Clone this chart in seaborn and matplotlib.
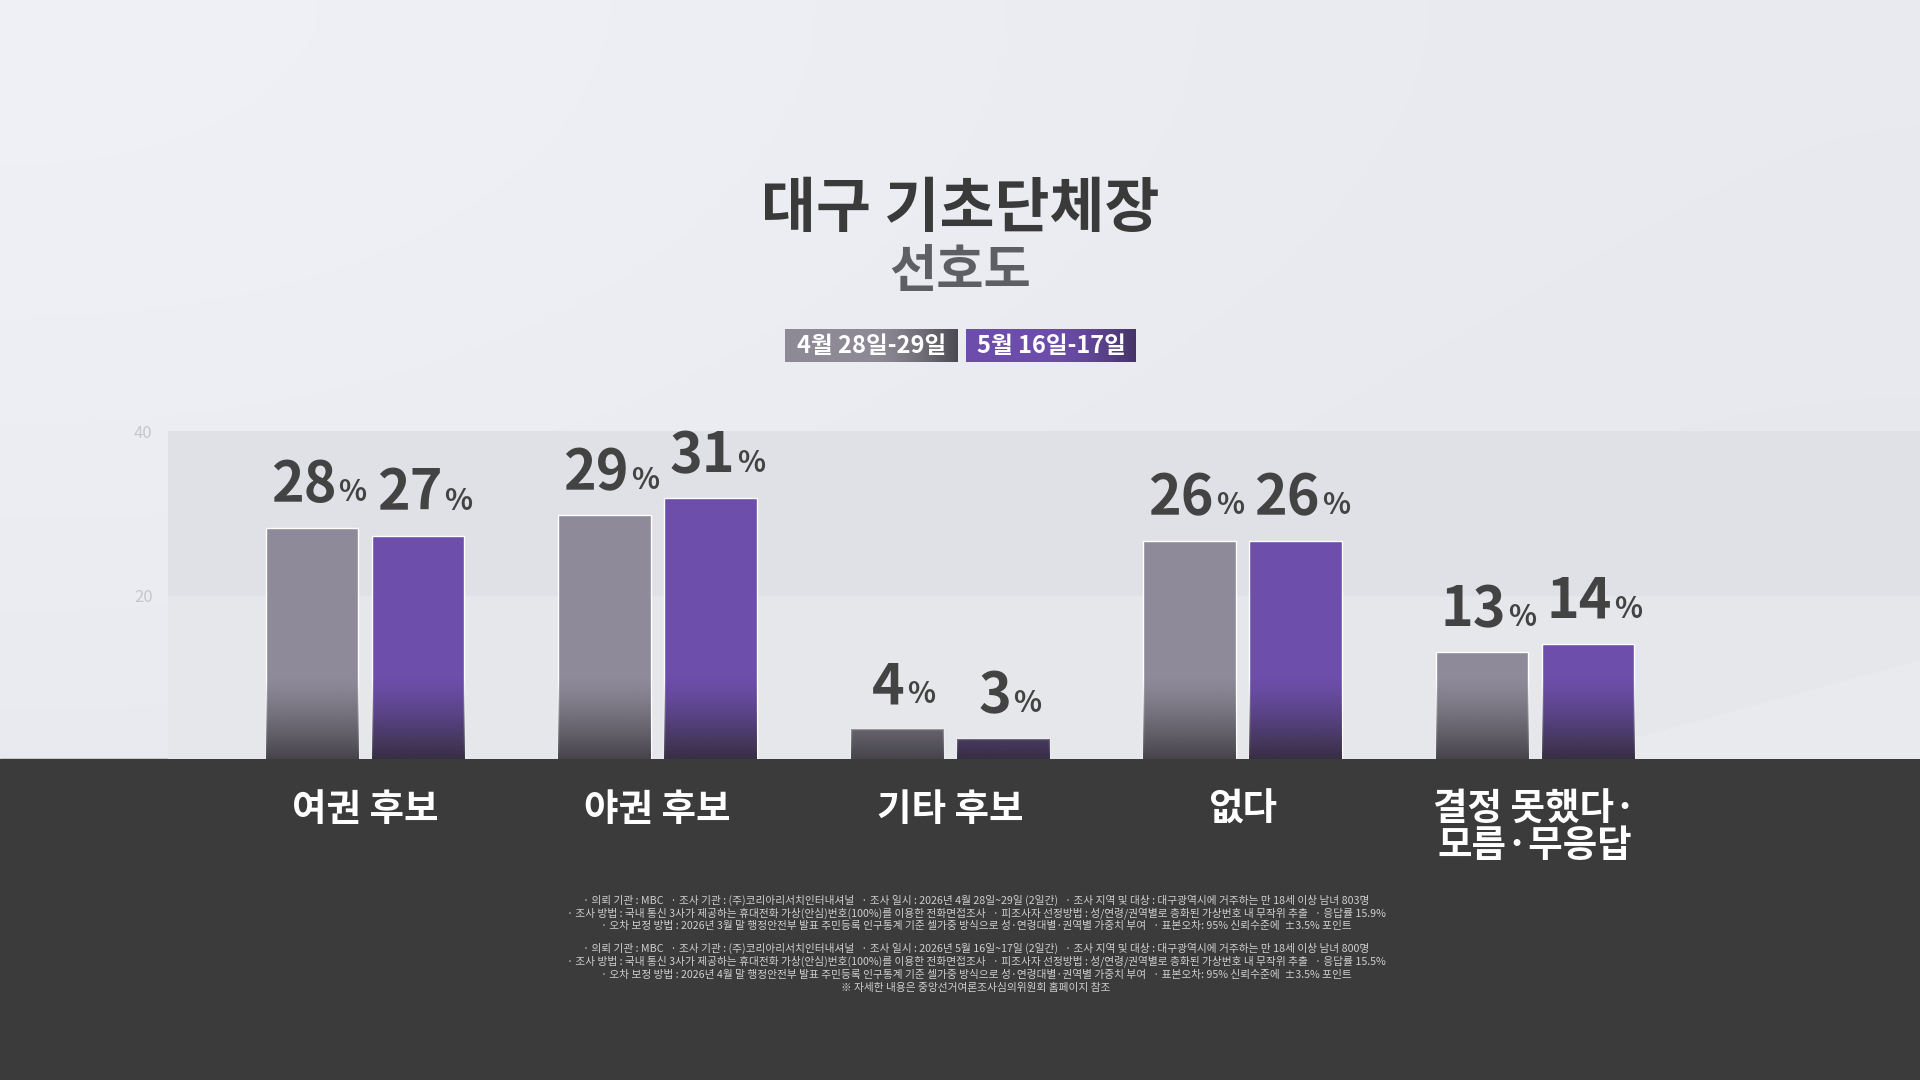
import numpy as np
import pandas as pd
import matplotlib
matplotlib.use("Agg")
import matplotlib.pyplot as plt
from matplotlib.patches import Rectangle, Polygon
from matplotlib.colors import to_rgb
import seaborn as sns

# ---------------- data ----------------
categories = ["여권 후보", "야권 후보", "기타 후보", "없다", "결정 못했다·\n모름·무응답"]
periods = ["4월 28일-29일", "5월 16일-17일"]
values_apr = [28.2, 29.7, 3.6, 26.6, 13.0]
values_may = [27.2, 31.8, 2.5, 26.6, 14.0]
labels_apr = [28, 29, 4, 26, 13]
labels_may = [27, 31, 3, 26, 14]
yticks = [20, 40]

title = "대구 기초단체장"
subtitle = "선호도"
footnotes_1 = [
    "· 의뢰 기관 : MBC   · 조사 기관 : (주)코리아리서치인터내셔널   · 조사 일시 : 2026년 4월 28일~29일 (2일간)   · 조사 지역 및 대상 : 대구광역시에 거주하는 만 18세 이상 남녀 803명",
    "· 조사 방법 : 국내 통신 3사가 제공하는 휴대전화 가상(안심)번호(100%)를 이용한 전화면접조사   · 피조사자 선정방법 : 성/연령/권역별로 층화된 가상번호 내 무작위 추출   · 응답률 15.9%",
    "· 오차 보정 방법 : 2026년 3월 말 행정안전부 발표 주민등록 인구통계 기준 셀가중 방식으로 성·연령대별·권역별 가중치 부여   · 표본오차: 95% 신뢰수준에  ±3.5% 포인트",
]
footnotes_2 = [
    "· 의뢰 기관 : MBC   · 조사 기관 : (주)코리아리서치인터내셔널   · 조사 일시 : 2026년 5월 16일~17일 (2일간)   · 조사 지역 및 대상 : 대구광역시에 거주하는 만 18세 이상 남녀 800명",
    "· 조사 방법 : 국내 통신 3사가 제공하는 휴대전화 가상(안심)번호(100%)를 이용한 전화면접조사   · 피조사자 선정방법 : 성/연령/권역별로 층화된 가상번호 내 무작위 추출   · 응답률 15.5%",
    "· 오차 보정 방법 : 2026년 4월 말 행정안전부 발표 주민등록 인구통계 기준 셀가중 방식으로 성·연령대별·권역별 가중치 부여   · 표본오차: 95% 신뢰수준에  ±3.5% 포인트",
    "※ 자세한 내용은 중앙선거여론조사심의위원회 홈페이지 참조",
]

df = pd.DataFrame({
    "category": categories * 2,
    "period": [periods[0]] * len(categories) + [periods[1]] * len(categories),
    "value": values_apr + values_may,
})

# ---------------- style ----------------
sns.set_theme(style="white")
plt.rcParams["font.family"] = ["Noto Sans CJK KR", "DejaVu Sans"]

GRAY = "#8e8a99"
PURPLE = "#6d4eab"
DARK_BAND = "#3b3b3b"
W, H = 1920, 1080

fig = plt.figure(figsize=(19.2, 10.8), dpi=100)

# background axes
bg = fig.add_axes([0, 0, 1, 1], zorder=-5)
corners = np.array([[to_rgb("#eff1f6"), to_rgb("#e8eaef")],
                    [to_rgb("#e8e9ee"), to_rgb("#e4e6eb")]])
bg.imshow(corners, extent=[0, 1, 0, 1], interpolation="bicubic", aspect="auto")
bg.add_patch(Rectangle((0, 0), 1, (H - 759) / H, color=DARK_BAND, zorder=3))
bg.set_xlim(0, 1)
bg.set_ylim(0, 1)
bg.axis("off")

# main axes
ax_left = 168 / W
ax = fig.add_axes([ax_left, (H - 759) / H, 1 - ax_left, (759 - 431) / H])
ax.set_facecolor("#e6e7eb")

sns.barplot(data=df, x="category", y="value", hue="period", order=categories,
            hue_order=periods, palette=[GRAY, PURPLE], width=0.725, gap=0.13,
            saturation=1, errorbar=None, legend=False, ax=ax, zorder=3)

ax.axhspan(20, 40, color="#e0e1e6", zorder=0.5)
ax.add_patch(Polygon([(1560 / W, (H - 759) / H), (1.0, (H - 661) / H), (1.0, (H - 759) / H)],
                     closed=True, transform=fig.transFigure, color="#e9eaee", zorder=0.6))

# gradient darkening at bottom of bars
G = 10.0
bottoms = ["#46444a", "#372f42"]
n = 256
for cont, bcol in zip(ax.containers, bottoms):
    rgb = to_rgb(bcol)
    grad = np.zeros((n, 1, 4))
    grad[..., :3] = rgb
    t = np.linspace(1, 0, n)
    grad[:, 0, 3] = (1 - t) ** 1.3
    for bar in cont:
        x0, w = bar.get_x(), bar.get_width()
        im = ax.imshow(grad, extent=[x0, x0 + w, 0, G], aspect="auto",
                       interpolation="bilinear", zorder=3.5, origin="upper")
        im.set_clip_path(bar)

# value labels
for cont, labs in zip(ax.containers, [labels_apr, labels_may]):
    for bar, lab in zip(cont, labs):
        cx = bar.get_x() + bar.get_width() / 2
        h = bar.get_height()
        num = ax.annotate(str(lab), xy=(cx, h), xytext=(-6, 19), textcoords="offset points",
                          ha="center", va="baseline", fontsize=40, fontweight="black",
                          color="#434343", annotation_clip=False, zorder=5)
        ax.annotate("%", xy=(1, h), xycoords=(num, "data"), xytext=(1.5, 19),
                    textcoords="offset points", ha="left", va="baseline",
                    fontsize=21, fontweight="bold", color="#434343",
                    annotation_clip=False, zorder=5)

ax.set_xlim((168 - 365) / 292.5, (1920 - 365) / 292.5)
ax.set_ylim(0, 40)
ax.set_yticks(yticks)
ax.set_yticklabels([str(v) for v in yticks])
ax.tick_params(axis="y", length=0, pad=11, labelsize=12, labelcolor="#c6c7cd")
ax.tick_params(axis="x", length=0, pad=22, labelsize=27, labelcolor="white")
for tl in ax.get_xticklabels():
    tl.set_fontweight("bold")
    tl.set_linespacing(0.92)
ax.set_xlabel("")
ax.set_ylabel("")
for s in ax.spines.values():
    s.set_visible(False)
ax.grid(False)

# title
fig.text(960 / W, 1 - 210 / H, title, ha="center", va="center", fontsize=43,
         fontweight="black", color="#3a3a3a")
fig.text(960 / W, 1 - 272 / H, subtitle, ha="center", va="center", fontsize=37,
         fontweight="black", color="#5e5e65")

# legend boxes
leg_specs = [(785, 958, ["#8d8a96", "#4c4a52"]), (966, 1136, ["#6c4dab", "#463468"])]
for (x0, x1, cols), lab in zip(leg_specs, periods):
    c0, c1 = np.array(to_rgb(cols[0])), np.array(to_rgb(cols[1]))
    tt = np.linspace(0, 1, 64)
    tt = np.clip((tt - 0.5) / 0.5, 0, 1) ** 1.5
    row = (c0[None, :] * (1 - tt[:, None]) + c1[None, :] * tt[:, None])[None, :, :]
    lax = fig.add_axes([x0 / W, 1 - 362 / H, (x1 - x0) / W, 33 / H])
    lax.imshow(row, extent=[0, 1, 0, 1], aspect="auto", interpolation="bilinear")
    lax.axis("off")
    lax.text(0.5, 0.47, lab, ha="center", va="center", fontsize=17, fontweight="bold",
             color="white", transform=lax.transAxes)

# footnotes
fy = [900, 913, 926]
for y, line in zip(fy, footnotes_1):
    fig.text(976 / W, 1 - y / H, line, ha="center", va="center", fontsize=7.7,
             color="#cfcfcf")
fy2 = [948, 961, 975, 988]
for y, line in zip(fy2, footnotes_2):
    fig.text(976 / W, 1 - y / H, line, ha="center", va="center", fontsize=7.7,
             color="#cfcfcf")

fig.savefig("out.png", dpi=100)
